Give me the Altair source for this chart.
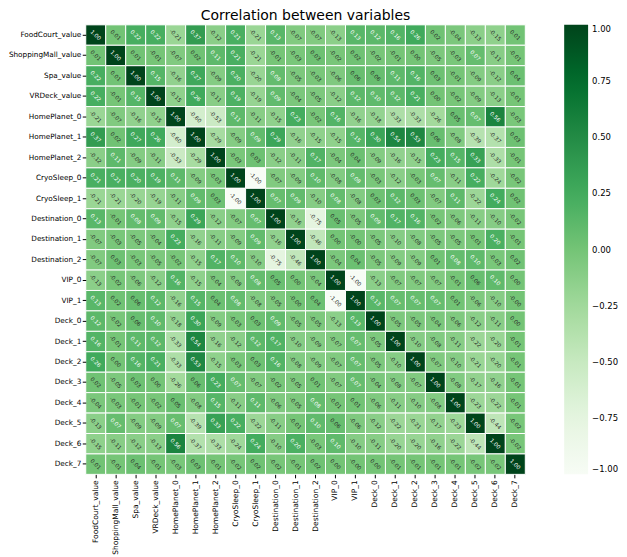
import altair as alt
import pandas as pd

names = ["FoodCourt_value", "ShoppingMall_value", "Spa_value", "VRDeck_value",
         "HomePlanet_0", "HomePlanet_1", "HomePlanet_2", "CryoSleep_0", "CryoSleep_1",
         "Destination_0", "Destination_1", "Destination_2", "VIP_0", "VIP_1",
         "Deck_0", "Deck_1", "Deck_2", "Deck_3", "Deck_4", "Deck_5", "Deck_6", "Deck_7"]

# lower triangle of the correlation matrix (row i, columns 0..i)
r0 = [1.00]
r1 = [0.01, 1.00]
r2 = [0.22, 0.01, 1.00]
r3 = [0.22, -0.01, 0.15, 1.00]
r4 = [-0.21, -0.07, -0.16, -0.15, 1.00]
r5 = [0.37, 0.02, 0.27, 0.26, -0.60, 1.00]
r6 = [-0.12, 0.11, -0.09, -0.11, -0.53, -0.29, 1.00]
r7 = [0.21, 0.21, 0.20, 0.19, 0.11, -0.09, -0.03, 1.00]
r8 = [-0.21, -0.21, -0.20, -0.19, -0.11, 0.09, 0.03, -1.00, 1.00]
r9 = [0.13, -0.01, 0.08, 0.09, -0.15, 0.29, -0.12, -0.07, 0.07, 1.00]
r10 = [-0.07, -0.03, -0.05, -0.04, 0.23, -0.16, -0.11, -0.09, 0.09, -0.16, 1.00]
r11 = [-0.07, 0.03, -0.03, -0.05, -0.02, -0.15, 0.17, 0.10, -0.10, -0.75, -0.46, 1.00]
r12 = [-0.13, -0.02, -0.06, -0.12, 0.16, -0.15, -0.04, -0.08, 0.08, 0.05, 0.00, -0.04, 1.00]
r13 = [0.13, 0.02, 0.06, 0.12, -0.16, 0.15, 0.04, 0.08, -0.08, -0.05, -0.0, 0.04, -1.00, 1.00]
r14 = [0.12, -0.02, 0.06, 0.10, -0.18, 0.30, -0.09, -0.03, 0.03, 0.09, -0.05, -0.05, -0.13, 0.13, 1.00]
r15 = [0.16, -0.01, 0.11, 0.12, -0.33, 0.54, -0.16, -0.12, 0.12, 0.17, -0.10, -0.09, -0.07, 0.07, -0.05, 1.00]
r16 = [0.26, 0.00, 0.16, 0.21, -0.33, 0.53, -0.15, -0.03, 0.03, 0.16, -0.08, -0.09, -0.07, 0.07, -0.05, -0.10, 1.00]
r17 = [0.02, -0.05, 0.03, 0.00, -0.26, 0.06, 0.23, 0.07, -0.07, -0.02, -0.05, 0.01, -0.07, 0.07, -0.04, -0.08, -0.07, 1.00]
r18 = [-0.04, -0.03, -0.01, -0.02, 0.05, -0.08, 0.15, -0.11, 0.11, -0.06, -0.05, 0.08, -0.01, 0.01, -0.06, -0.11, -0.10, -0.08, 1.00]
r19 = [-0.13, 0.07, -0.09, -0.09, 0.07, -0.39, 0.33, 0.22, -0.22, -0.11, -0.01, 0.10, 0.06, -0.06, -0.12, -0.22, -0.21, -0.17, -0.23, 1.00]
r20 = [-0.15, -0.11, -0.12, -0.13, 0.56, -0.37, -0.33, -0.24, 0.24, -0.10, 0.20, -0.03, 0.10, -0.10, -0.11, -0.20, -0.20, -0.16, -0.22, -0.44, 1.00]
r21 = [0.01, -0.01, 0.04, -0.01, -0.03, 0.03, -0.01, -0.02, 0.02, -0.02, -0.01, 0.02, 0.00, -0.0, 0.00, -0.01, -0.01, -0.01, -0.01, -0.02, -0.02, 1.00]

lower = [r0, r1, r2, r3, r4, r5, r6, r7, r8, r9, r10, r11, r12, r13, r14, r15,
         r16, r17, r18, r19, r20, r21]

# colour scale stops (matplotlib "Greens")
scale_domain = [-1.0, -0.75, -0.5, -0.25, 0.0, 0.25, 0.5, 0.75, 1.0]
scale_colors = ["#f7fcf5", "#e5f5e0", "#c7e9c0", "#a1d99b", "#74c476",
                "#41ab5d", "#238b45", "#006d2c", "#00441b"]
legend_values = [1.0, 0.75, 0.5, 0.25, 0.0, -0.25, -0.5, -0.75, -1.0]

rows = []
n = len(names)
for i in range(n):
    for j in range(n):
        v = lower[i][j] if j <= i else lower[j][i]
        rows.append({"row": names[i], "col": names[j], "v": v, "label": f"{v:.2f}"})
df = pd.DataFrame(rows)

font = "DejaVu Sans"

base = alt.Chart(df).encode(
    x=alt.X("col:N", sort=names, title=None,
            axis=alt.Axis(labelAngle=-90, labelFontSize=7.5, labelFont=font,
                          labelColor="black", tickColor="black", tickSize=3.5,
                          domain=False, labelPadding=2, orient="bottom")),
    y=alt.Y("row:N", sort=names, title=None,
            axis=alt.Axis(labelFontSize=7.3, labelFont=font, labelColor="black",
                          tickColor="black", tickSize=3.5, domain=False,
                          labelPadding=1.5)),
)

rect = base.mark_rect(stroke="white", strokeWidth=1).encode(
    color=alt.Color("v:Q", title=None,
                    scale=alt.Scale(domain=scale_domain, range=scale_colors,
                                    interpolate="rgb"),
                    legend=alt.Legend(gradientLength=451, gradientThickness=24,
                                      values=legend_values,
                                      format=".2f", labelFont=font, labelFontSize=8.5,
                                      labelColor="black", offset=39, labelOffset=4,
                                      gradientStrokeWidth=0))
)

text = base.mark_text(angle=45, fontSize=5.5, font=font).encode(
    text="label:N",
    color=alt.condition(alt.datum.v > 0.065, alt.value("white"), alt.value("#262626")),
)

chart = (rect + text).properties(
    width=441, height=451,
    title=alt.TitleParams("Correlation between variables", fontSize=14, font=font,
                          fontWeight="normal", color="black", offset=1),
    padding={"left": 0, "top": 0, "right": 0, "bottom": 0},
).configure_view(stroke=None)

chart.save("out.html", embed_options={"renderer": "svg", "actions": False})
